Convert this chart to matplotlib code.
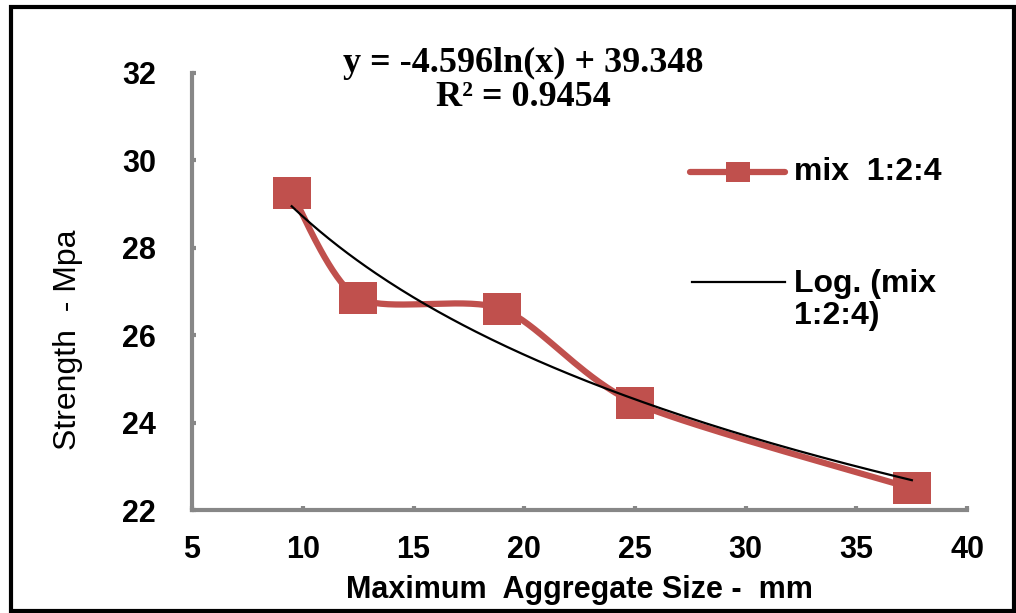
import matplotlib.pyplot as plt
import numpy as np
from matplotlib.lines import Line2D
from matplotlib.patches import Rectangle

# data
agg_size = [9.5, 12.5, 19, 25, 37.5]
strength = [29.25, 26.85, 26.6, 24.45, 22.5]
series_name = 'mix  1:2:4'
trend_name = 'Log. (mix\n1:2:4)'
eq_text = 'y = -4.596ln(x) + 39.348\nR² = 0.9454'
xticks = [5, 10, 15, 20, 25, 30, 35, 40]
yticks = [22, 24, 26, 28, 30, 32]

red = '#C0504D'
gray = '#878787'

plt.rcParams['font.family'] = ['Liberation Sans', 'DejaVu Sans']

fig = plt.figure(figsize=(10.16, 6.13), dpi=100)
ax = fig.add_axes([0.189, 0.168, 0.763, 0.713])
ax.set_xlim(5, 40)
ax.set_ylim(22, 32)

# excel style smoothed line: bezier through the points, built in pixel space
pts = ax.transData.transform(np.column_stack([agg_size, strength]))
P = np.vstack([pts[0], pts, pts[-1]])
k = 0.13
curve = []
t = np.linspace(0, 1, 40)[:, None]
for i in range(1, len(P) - 2):
    p0, p1, p2, p3 = P[i - 1], P[i], P[i + 1], P[i + 2]
    c1 = p1 + (p2 - p0) * k
    c2 = p2 - (p3 - p1) * k
    seg = ((1 - t) ** 3) * p1 + 3 * ((1 - t) ** 2) * t * c1 + 3 * (1 - t) * t ** 2 * c2 + t ** 3 * p2
    curve.append(seg)
curve = ax.transData.inverted().transform(np.vstack(curve))

rect_marker = [(-0.6, -0.5), (0.6, -0.5), (0.6, 0.5), (-0.6, 0.5), (-0.6, -0.5)]

ax.plot(curve[:, 0], curve[:, 1], color=red, lw=4.5, solid_capstyle='round', zorder=2)
ax.plot(agg_size, strength, ls='none', marker=rect_marker, ms=28, mew=0, color=red, zorder=3)

# log trendline fitted to the series
coef = np.polyfit(np.log(agg_size), strength, 1)
xs = np.linspace(min(agg_size), max(agg_size), 200)
ax.plot(xs, coef[0] * np.log(xs) + coef[1], color='black', lw=1.6, zorder=4)

for side in ['top', 'right']:
    ax.spines[side].set_visible(False)
for side in ['left', 'bottom']:
    ax.spines[side].set_color(gray)
    ax.spines[side].set_linewidth(3)

ax.set_xticks(xticks)
ax.set_yticks(yticks)
ax.tick_params(axis='both', direction='in', length=3, width=3, color=gray, labelsize=22)
ax.tick_params(axis='x', pad=18)
ax.tick_params(axis='y', pad=26)
for lab in ax.get_xticklabels() + ax.get_yticklabels():
    lab.set_fontweight('bold')

ax.set_xlabel('Maximum  Aggregate Size -  mm', fontsize=22, fontweight='bold', va='center')
ax.xaxis.set_label_coords(0.5, -0.183)
ax.set_ylabel('Strength  - Mpa', fontsize=23, va='center')
ax.yaxis.set_label_coords(-0.16, 0.39)

ax.text(0.427, 0.982, eq_text, transform=ax.transAxes, ha='center', va='center',
        family='Liberation Serif', fontweight='bold', fontsize=26, linespacing=1.05)

# legend drawn by hand to keep excel layout
ax.add_line(Line2D([0.643, 0.765], [0.773, 0.773], transform=ax.transAxes, color=red,
                   lw=4.5, solid_capstyle='round', clip_on=False))
ax.add_line(Line2D([0.704], [0.773], transform=ax.transAxes, color=red, ls='none',
                   marker=rect_marker, ms=17, mew=0, clip_on=False))
ax.text(0.776, 0.773, series_name, transform=ax.transAxes, va='center', fontsize=23, fontweight='bold')
ax.add_line(Line2D([0.645, 0.765], [0.522, 0.522], transform=ax.transAxes, color='black',
                   lw=1.6, clip_on=False))
ax.text(0.776, 0.48, trend_name, transform=ax.transAxes, va='center', fontsize=23,
        fontweight='bold', linespacing=1.08)

fig.patches.append(Rectangle((11 / 1016, 2 / 613), 1003 / 1016, 604 / 613, transform=fig.transFigure,
                             fill=False, edgecolor='black', lw=3))

fig.savefig('out.png', dpi=100)
